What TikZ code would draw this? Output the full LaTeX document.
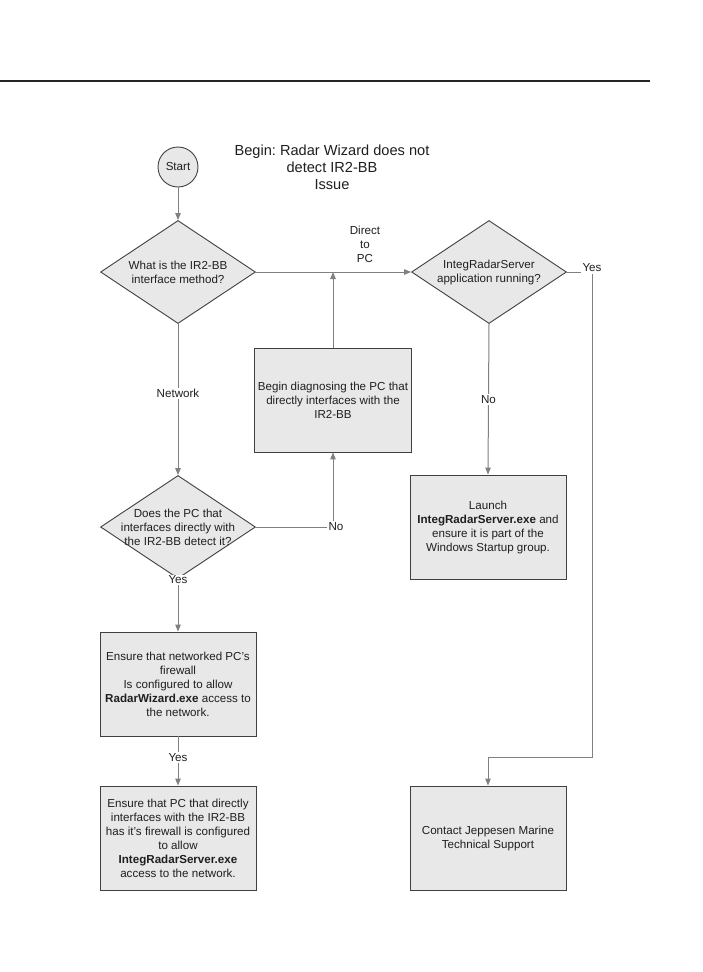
\documentclass[tikz,border=0pt]{standalone}
\usepackage{fontspec}
\setmainfont{Liberation Sans}
\usetikzlibrary{arrows.meta,shapes.geometric,positioning}
\frenchspacing

\begin{document}
\begin{tikzpicture}[x=1pt, y=-1pt,
    every node/.style={font=\fontsize{11.6}{14}\selectfont, text=black!88, align=center},
    box/.style={draw=black!75, line width=0.9pt, fill=black!9, minimum width=156pt, minimum height=104pt},
    decision/.style={diamond, draw=black!75, line width=0.9pt, fill=black!9, minimum width=155pt, minimum height=103pt, inner sep=0pt},
    flow/.style={draw=black!50, line width=1pt, -{Triangle[length=7pt,width=5.5pt]}},
    lbl/.style={fill=white, inner sep=1.5pt}]
    \fill[white] (0,0) rectangle (702,972);
    \useasboundingbox (0,0) rectangle (702,972);
    \draw[line width=1.4pt, black!85] (0,81) -- (650,81);

    \node[circle, draw=black!75, line width=0.9pt, fill=black!9, minimum size=40pt, inner sep=0pt] (start) at (178,167) {Start};
    \node[font=\fontsize{14.6}{17}\selectfont] (title) at (332,167) {Begin: Radar Wizard does not\\detect IR2-BB\\Issue};

    \node[decision] (ask) at (178,272) {};
    \node (askq) at (ask) {What is the IR2-BB\\interface method?};
    \node[decision] (srv) at (489,272) {};
    \node (srvq) at (srv) {IntegRadarServer\\application running?};
    \node[box] (diag) at (333,400) {Begin diagnosing the PC that\\directly interfaces with the\\IR2-BB};
    \node[decision] (detect) at (178,527) {};
    \node (detectq) at (detect) {Does the PC that\\interfaces directly with\\the IR2-BB detect it?};
    \node[box] (launch) at (488,527) {Launch\\\textbf{IntegRadarServer.exe} and\\ensure it is part of the\\Windows Startup group.};
    \node[box] (fw) at (178,684) {Ensure that networked PC's\\firewall\\Is configured to allow\\\textbf{RadarWizard.exe} access to\\the network.};
    \node[box] (fwsrv) at (178,838) {Ensure that PC that directly\\interfaces with the IR2-BB\\has it's firewall is configured\\to allow\\\textbf{IntegRadarServer.exe}\\access to the network.};
    \node[box] (contact) at (488,838) {Contact Jeppesen Marine\\Technical Support};
    \coordinate (drop) at (592,757);

    \draw[flow] (start) -- (ask.north);
    \draw[flow] (ask.east) -- (srv.west);
    \node (direct) at (365,244) {Direct\\to\\PC};
    \draw[flow] (diag.north) -- (diag.north |- ask.east);
    \draw[flow] (ask.south) -- node[lbl, pos=0.46] (net) {Network} (detect.north);
    \draw[flow] (detect.east) -- (detect.east -| diag.south) -- (diag.south);
    \node[lbl] (detno) at ([xshift=3pt]detect.east -| diag.south) {No};
    \draw[flow] (detect.south) -- (fw.north);
    \node[lbl, inner sep=1pt] (detyes) at ([yshift=-1pt]detect.south) {Yes};
    \draw[flow] (fw.south) -- node[lbl, pos=0.42] (fwyes) {Yes} (fwsrv.north);
    \draw[flow] (srv.south) -- node[lbl] (srvno) {No} (launch.north);
    \draw[flow] (srv.east) -- (srv.east -| drop) -- (drop) -- (drop -| contact.north) -- (contact.north);
    \node[lbl] (srvyes) at ([yshift=4pt]srv.east -| drop) {Yes};
\end{tikzpicture}
\end{document}
